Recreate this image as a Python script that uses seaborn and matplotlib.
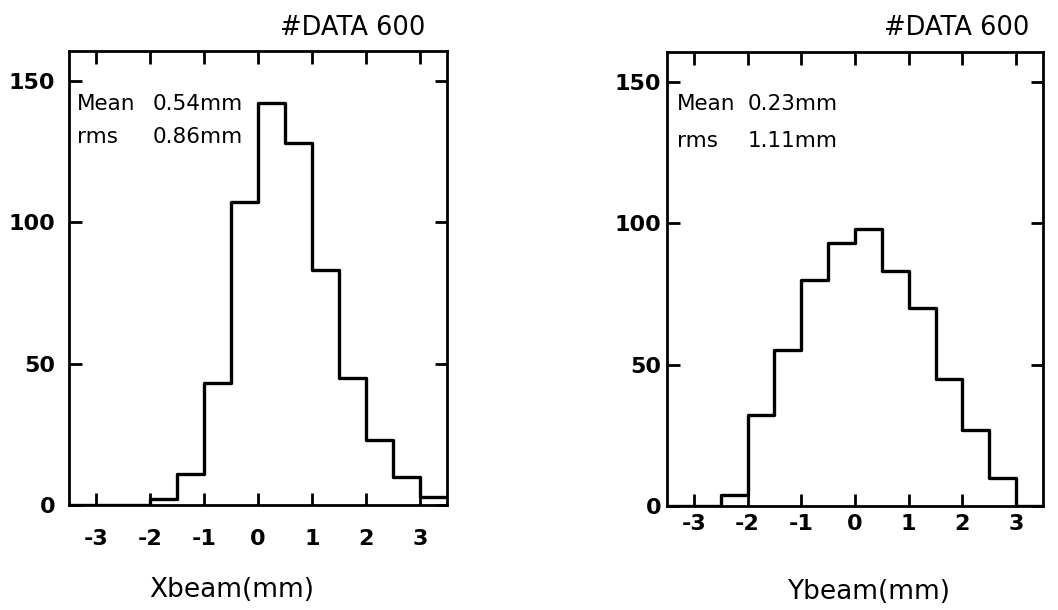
import numpy as np
import pandas as pd
import matplotlib
matplotlib.use("Agg")
import matplotlib.pyplot as plt
import seaborn as sns

# ---- data ----
bin_edges = [-3.5, -3.0, -2.5, -2.0, -1.5, -1.0, -0.5, 0.0, 0.5, 1.0, 1.5, 2.0, 2.5, 3.0, 3.5]
x_counts = [0, 0, 0, 2, 11, 43, 107, 142, 128, 83, 45, 23, 10, 3]
y_counts = [0, 0, 4, 32, 55, 80, 93, 98, 83, 70, 45, 27, 10, 0]
x_ticks = [-3, -2, -1, 0, 1, 2, 3]
y_ticks = [0, 50, 100, 150]
titles = ["#DATA 600", "#DATA 600"]
xlabels = ["Xbeam(mm)", "Ybeam(mm)"]
stats_names = ["Mean", "rms"]
x_stats = ["0.54mm", "0.86mm"]
y_stats = ["0.23mm", "1.11mm"]

sns.set_theme(style="white")
plt.rcParams['font.family'] = ['DejaVu Sans']
plt.rcParams['text.color'] = 'black'
plt.rcParams['axes.labelcolor'] = 'black'
plt.rcParams['xtick.color'] = 'black'
plt.rcParams['ytick.color'] = 'black'

centers = [(a + b) / 2 for a, b in zip(bin_edges[:-1], bin_edges[1:])]

fig = plt.figure(figsize=(10.58, 6.10), dpi=100)
ax1 = fig.add_axes([0.0652, 0.1721, 0.3573, 0.7443])
ax2 = fig.add_axes([0.6304, 0.1705, 0.3554, 0.7443])

panels = [
    (ax1, x_counts, x_stats, xlabels[0], titles[0],
     dict(lab_x=0.431, lab_y=-0.158, t_x=0.942, t_y=1.035, s_x0=0.021, s_x1=0.22, s_y0=0.870, s_y1=0.797,
          xpad=17, ypad=10)),
    (ax2, y_counts, y_stats, xlabels[1], titles[1],
     dict(lab_x=0.535, lab_y=-0.160, t_x=0.965, t_y=1.037, s_x0=0.026, s_x1=0.215, s_y0=0.872, s_y1=0.791,
          xpad=6, ypad=4)),
]

for ax, counts, stats, xlab, title, p in panels:
    df = pd.DataFrame({"x": centers, "w": counts})
    sns.histplot(data=df, x="x", weights="w", bins=bin_edges, element="step",
                 fill=False, color="black", linewidth=2.4, ax=ax)
    ax.set_xlim(-3.5, 3.5)
    ax.set_ylim(0, 160.5)
    ax.set_xticks(x_ticks)
    ax.set_xticklabels([str(t) for t in x_ticks])
    ax.set_yticks(y_ticks)
    ax.set_yticklabels([str(t) for t in y_ticks])
    ax.set_ylabel("")
    ax.set_xlabel(xlab, fontsize=19, color="black")
    ax.xaxis.set_label_coords(p["lab_x"], p["lab_y"])
    for sp in ax.spines.values():
        sp.set_visible(True)
        sp.set_color("black")
        sp.set_linewidth(2.0)
    ax.tick_params(axis="both", which="major", direction="in", length=9, width=2.0,
                   color="black", labelcolor="black", top=True, right=True, bottom=True, left=True)
    ax.tick_params(axis="x", pad=p["xpad"], labelsize=16)
    ax.tick_params(axis="y", pad=p["ypad"], labelsize=16)
    for lab in ax.get_xticklabels() + ax.get_yticklabels():
        lab.set_fontweight("bold")
    ax.text(p["t_x"], p["t_y"], title, transform=ax.transAxes, ha="right", va="baseline",
            fontsize=18.5, color="black")
    kw = dict(transform=ax.transAxes, ha="left", va="baseline", fontsize=15.5, color="black")
    ax.text(p["s_x0"], p["s_y0"], stats_names[0], **kw)
    ax.text(p["s_x1"], p["s_y0"], stats[0], **kw)
    ax.text(p["s_x0"], p["s_y1"], stats_names[1], **kw)
    ax.text(p["s_x1"], p["s_y1"], stats[1], **kw)

fig.savefig("out.png", dpi=100, facecolor="white")
